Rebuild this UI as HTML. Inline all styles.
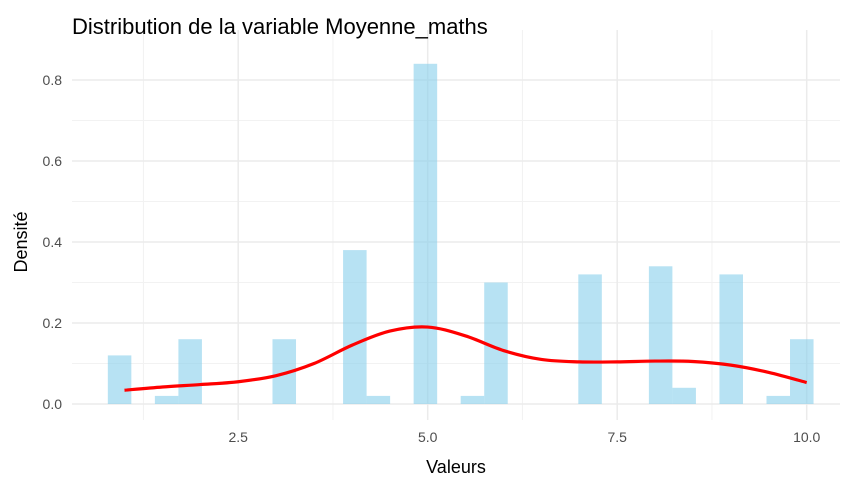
<!DOCTYPE html>
<html><head><meta charset="utf-8"><style>
body{margin:0;background:#fff;font-family:"Liberation Sans",Arial,sans-serif}
</style></head><body>
<svg id="chart" width="861" height="487" xmlns="http://www.w3.org/2000/svg"></svg>
<script>
const binCounts = [0.12,0,0.02,0.16,0,0,0,0.16,0,0,0.38,0.02,0,0.84,0,0.02,0.30,0,0,0,0.32,0,0,0.34,0.04,0,0.32,0,0.02,0.16];
const densityX = [1,1.5,2,2.5,3,3.5,4,4.5,5,5.5,6,6.5,7,7.5,8,8.5,9,9.5,10];
const densityY = [0.034,0.042,0.048,0.055,0.07,0.1,0.145,0.18,0.19,0.168,0.132,0.11,0.104,0.104,0.106,0.105,0.096,0.078,0.053];
const xTicks = [2.5,5.0,7.5,10.0];
const yTicks = [0,0.2,0.4,0.6,0.8];
const binStart = 0.78, binWidth = 9/29;
const X = v => 48.7 + v*75.8;
const Y = v => 404 - v*405;
const svg = document.getElementById('chart');
const NS = 'http://www.w3.org/2000/svg';
function mk(t, a, txt){const e=document.createElementNS(NS,t);for(const k in a)e.setAttribute(k,a[k]);if(txt!==undefined)e.textContent=txt;svg.appendChild(e);return e;}
[0.1,0.3,0.5,0.7].forEach(v=>{const e=mk('line',{x1:72,x2:840,y1:Y(v),y2:Y(v),stroke:'#f2f2f2','stroke-width':1});

});
[1.25,3.75,6.25,8.75].forEach(v=>{const e=mk('line',{x1:X(v),x2:X(v),y1:30,y2:420,stroke:'#f2f2f2','stroke-width':1});

});
yTicks.forEach(v=>{const e=mk('line',{x1:72,x2:840,y1:Y(v),y2:Y(v),stroke:'#ebebeb','stroke-width':1.5});


const t=mk('text',{x:62,y:Y(v)+5,'text-anchor':'end','font-size':14,fill:'#4d4d4d'},v.toFixed(1));

});
xTicks.forEach(v=>{const e=mk('line',{x1:X(v),x2:X(v),y1:30,y2:420,stroke:'#ebebeb','stroke-width':1.5});


const t=mk('text',{x:X(v),y:442,'text-anchor':'middle','font-size':14,fill:'#4d4d4d'},v.toFixed(1));

});
binCounts.forEach((c,i)=>{if(c<=0)return;const l=binStart+i*binWidth;
const r=mk('rect',{x:X(l),y:Y(c),width:X(l+binWidth)-X(l),height:Y(0)-Y(c),fill:'#87ceeb','fill-opacity':0.6});

});
const P=densityX.map((x,i)=>[X(x),Y(densityY[i])]);
let d='M'+P[0][0]+','+P[0][1];
for(let i=0;i<P.length-1;i++){const p0=P[Math.max(0,i-1)],p1=P[i],p2=P[i+1],p3=P[Math.min(P.length-1,i+2)];
d+=` C${p1[0]+(p2[0]-p0[0])/6},${p1[1]+(p2[1]-p0[1])/6} ${p2[0]-(p3[0]-p1[0])/6},${p2[1]-(p3[1]-p1[1])/6} ${p2[0]},${p2[1]}`;}
const path=mk('path',{d:d,fill:'none',stroke:'#ff0000','stroke-width':3.2});


const ti=mk('text',{x:72,y:34,'font-size':22,fill:'#000'},'Distribution de la variable Moyenne_maths');


const xt=mk('text',{x:456,y:473,'text-anchor':'middle','font-size':18,fill:'#000'},'Valeurs');


const yt=mk('text',{x:0,y:0,'text-anchor':'middle','font-size':18,fill:'#000',transform:'translate(27,242) rotate(-90)'},'Densité');


</script>
</body></html>
